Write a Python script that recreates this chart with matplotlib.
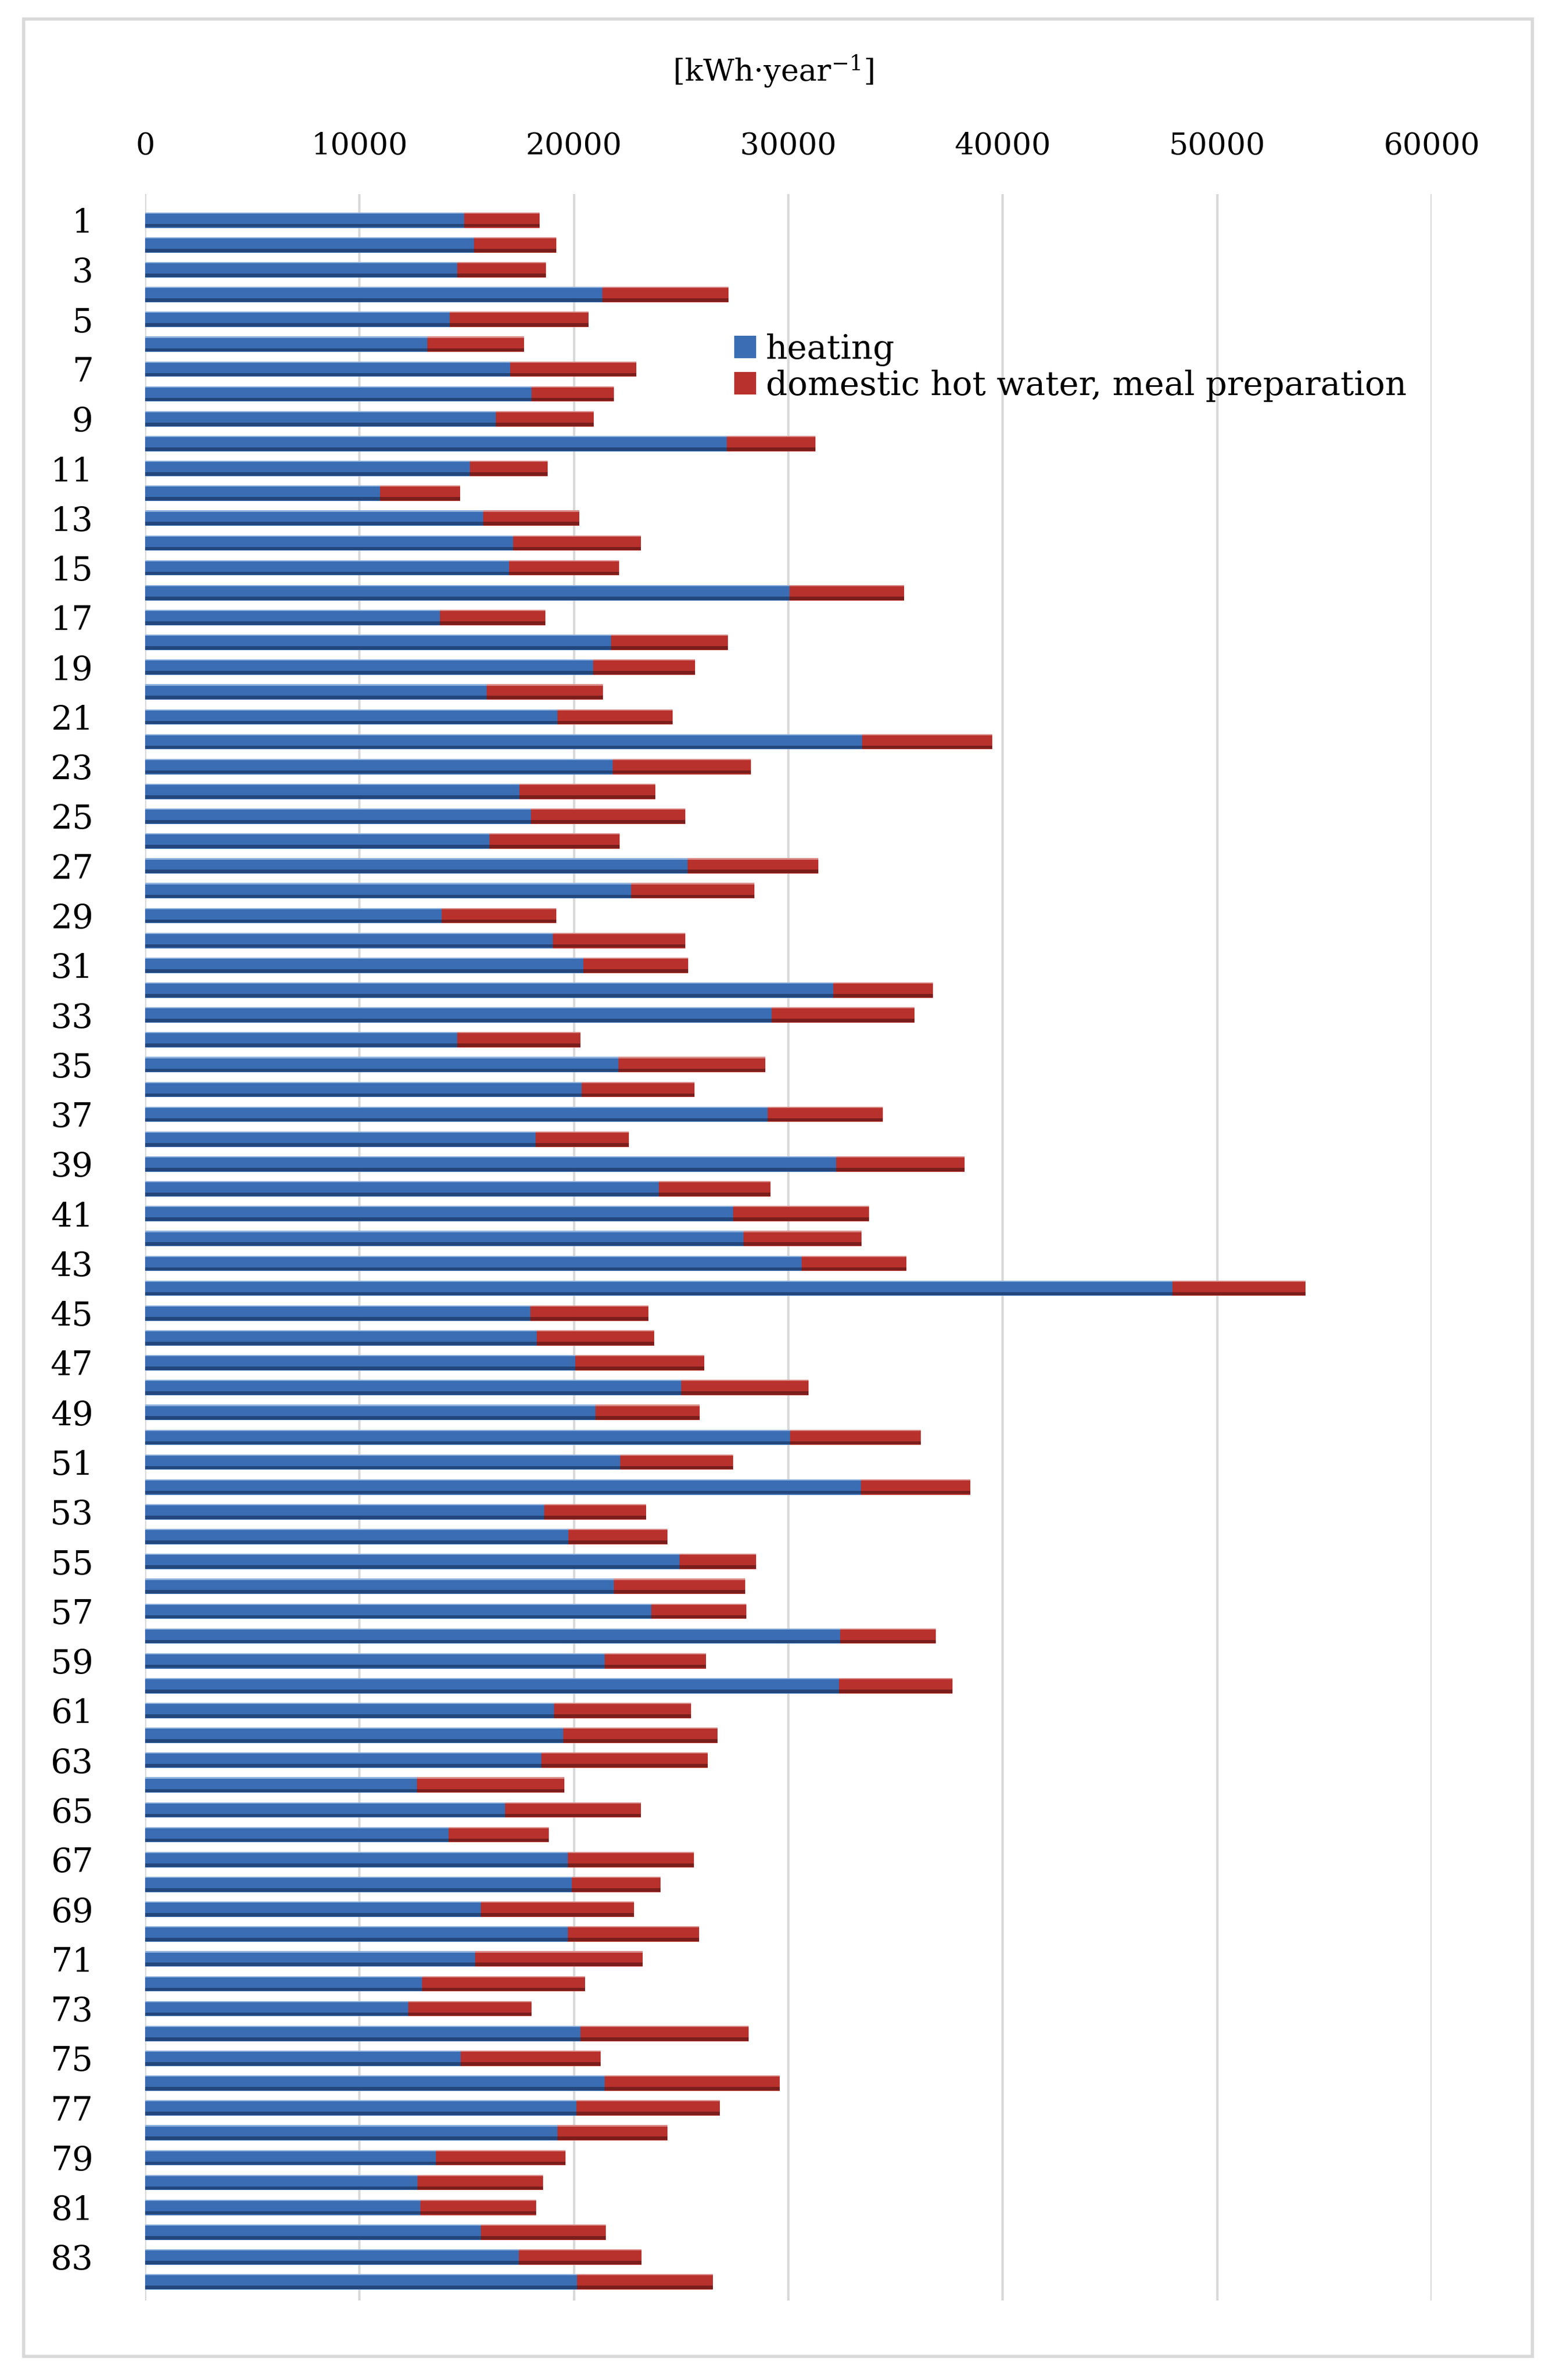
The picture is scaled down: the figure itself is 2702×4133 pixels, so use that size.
import numpy as np
import matplotlib.pyplot as plt
from matplotlib.patches import Rectangle

plt.rcParams['font.family'] = 'DejaVu Serif'
plt.rcParams['mathtext.fontset'] = 'dejavuserif'

# building numbers 1..84
buildings = list(range(1, 85))

# heating demand [kWh/year]
heating = [14870, 15330, 14560, 21330, 14220, 13170, 17030, 18020, 16350, 27140,
           15150, 10970, 15770, 17160, 16970, 30050, 13760, 21730, 20900, 15920,
           19230, 33450, 21820, 17470, 17990, 16070, 25290, 22660, 13820, 19010,
           20430, 32090, 29210, 14560, 22070, 20370, 29030, 18210, 32240, 23960,
           27420, 27910, 30610, 47910, 17960, 18250, 20060, 25000, 21010, 30070,
           22160, 33380, 18610, 19750, 24920, 21850, 23620, 32430, 21420, 32360,
           19070, 19510, 18490, 12670, 16790, 14160, 19720, 19910, 15670, 19720,
           15390, 12920, 12270, 20310, 14710, 21420, 20120, 19230, 13570, 12700,
           12830, 15670, 17430, 20150]

# total (heating + domestic hot water, meal preparation)
total = [18390, 19170, 18700, 27200, 20680, 17680, 22910, 21850, 20930, 31250,
         18760, 14680, 20250, 23120, 22100, 35390, 18670, 27170, 25660, 21360,
         24610, 39510, 28250, 23800, 25190, 22130, 31410, 28410, 19170, 25190,
         25320, 36750, 35890, 20310, 28930, 25630, 34400, 22570, 38210, 29180,
         33760, 33420, 35510, 54130, 23480, 23730, 26080, 30940, 25870, 36170,
         27420, 38490, 23370, 24360, 28500, 27980, 28040, 36880, 26150, 37650,
         25470, 26710, 26240, 19540, 23120, 18830, 25590, 24050, 22810, 25840,
         23210, 20530, 18020, 28160, 21240, 29610, 26800, 24360, 19600, 18550,
         18240, 21480, 23150, 26490]

dhw = [t - h for t, h in zip(total, heating)]

x_ticks = [0, 10000, 20000, 30000, 40000, 50000, 60000]

fig = plt.figure(figsize=(27.02, 41.33), dpi=100)
ax = fig.add_axes([0.0933, 0.0334, 0.8267, 0.8851])

pos = np.arange(len(buildings))
h = np.array(heating)
d = np.array(dhw)

# main bars
ax.barh(pos, h, height=0.62, color='#3A6DB3', zorder=3, label='heating')
ax.barh(pos, d, left=h, height=0.62, color='#B8312D', zorder=3,
        label='domestic hot water, meal preparation')
# simple shading to mimic the 3D cylinder look
ax.barh(pos + 0.22, h, height=0.13, color='#23477C', zorder=4)
ax.barh(pos + 0.22, d, left=h, height=0.13, color='#7A1E1C', zorder=4)
ax.barh(pos - 0.285, h, height=0.05, color='#8DB0DC', zorder=4)
ax.barh(pos - 0.285, d, left=h, height=0.05, color='#D98A86', zorder=4)

ax.set_xlim(0, 60000)
ax.set_ylim(83.75, -1.05)
ax.set_xticks(x_ticks)
ax.set_xticklabels([str(v) for v in x_ticks])
ax.xaxis.tick_top()
ax.set_yticks(pos[::2])
ax.set_yticklabels([str(b) for b in buildings[::2]])
ax.tick_params(axis='x', length=0, pad=42, labelsize=38)
ax.tick_params(axis='y', length=0, pad=65, labelsize=42)
for lab in ax.get_yticklabels():
    lab.set_horizontalalignment('right')

ax.grid(axis='x', color='#D9D9D9', linewidth=3, zorder=0)
for s in ax.spines.values():
    s.set_visible(False)

fig.text(0.497, 0.970, '[kWh·year$^{-1}$]', ha='center', va='center', fontsize=38)

fig.legend(loc='upper left', bbox_to_anchor=(0.461, 0.867), frameon=False,
           fontsize=42, handlelength=0.65, handleheight=0.65, handletextpad=0.3,
           labelspacing=0.1, borderpad=0)

# outer frame
fig.patches.append(Rectangle((0.015, 0.010), 0.970, 0.982, transform=fig.transFigure,
                             fill=False, edgecolor='#D9D9D9', linewidth=4))

fig.savefig('out.png', dpi=100)
